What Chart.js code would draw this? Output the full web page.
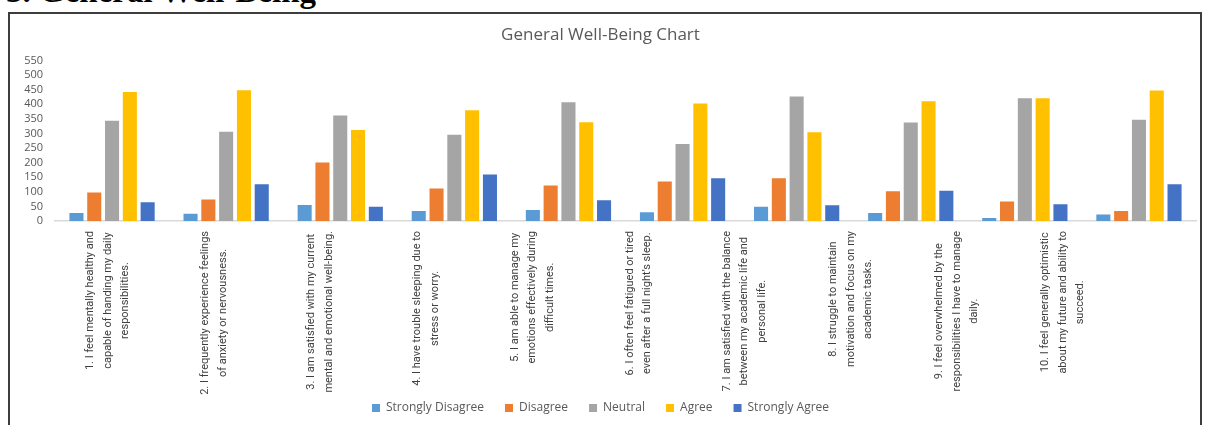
<!DOCTYPE html>
<html>
<head>
<meta charset="utf-8">
<title>General Well-Being Chart</title>
<script src="https://cdn.jsdelivr.net/npm/chart.js@4.4.0/dist/chart.umd.min.js"></script>
<style>
    body { margin: 0; background: #fff; width: 1205px; height: 425px; overflow: hidden; position: relative; }
    #heading { position: absolute; left: 6px; top: -27px; font: bold 33px 'Liberation Serif', serif; color: #000; white-space: nowrap; }
    #frame { position: absolute; left: 8px; top: 12px; width: 1190px; height: 430px; border: 2px solid #3d3d3d; }
    #wrap { position: absolute; left: 0; top: 0; width: 1205px; height: 425px; }
</style>
</head>
<body>
<div id="heading">3. General Well-Being</div>
<div id="frame"></div>
<div id="wrap"><canvas id="wellbeingChart"></canvas></div>
<script>
// Survey statements (one array per label, split into its lines)
const categories = [
    ['1. I feel mentally healthy and', 'capable of handing my daily', 'responsibilities.'],
    ['2. I frequently experience feelings', 'of anxiety or nervousness.'],
    ['3. I am satisfied with my current', 'mental and emotional well-being.'],
    ['4. I have trouble sleeping due to', 'stress or worry.'],
    ['5. I am able to manage my', 'emotions effectively during', 'difficult times.'],
    ['6. I often feel fatigued or tired', 'even after a full night\u2019s sleep.'],
    ['7. I am satisfied with the balance', 'between my academic life and', 'personal life.'],
    ['8. I struggle to maintain', 'motivation and focus on my', 'academic tasks.'],
    ['9. I feel overwhelmed by the', 'responsibilities I have to manage', 'daily.'],
    ['10. I feel generally optimistic', 'about my future and ability to', 'succeed.'],
];

const stronglyDisagree = [27, 25, 55, 34, 38, 30, 49, 27, 10, 22];
const disagree = [98, 74, 200, 111, 122, 135, 146, 102, 67, 34];
const neutral = [343, 306, 361, 295, 407, 264, 426, 337, 420, 347];
const agree = [442, 448, 312, 379, 338, 402, 304, 410, 420, 447];
const stronglyAgree = [64, 126, 49, 159, 71, 146, 54, 104, 57, 126];

const yMin = 0;
const yMax = 550;
const yStep = 50;

// Excel-style rotated labels with centred lines
const centredLabels = {
    id: 'centredLabels',
    afterDraw(chart) {
        const ctx = chart.ctx;
        const xScale = chart.scales.x;
        const left = chart.chartArea.left;
        ctx.save();
        ctx.font = "11px 'Liberation Sans Narrow', 'Roboto', sans-serif";
        ctx.fillStyle = '#404040';
        ctx.textAlign = 'center';
        ctx.textBaseline = 'middle';
        categories.forEach((lines, i) => {
            const x = left + (xScale.getPixelForValue(i) - left) * 0.93;
            const widest = Math.max(...lines.map(l => ctx.measureText(l).width));
            const y = chart.chartArea.bottom + 10 + widest / 2;
            lines.forEach((line, j) => {
                ctx.save();
                ctx.translate(x + (j - (lines.length - 1) / 2) * 17.5, y);
                ctx.rotate(-Math.PI / 2);
                ctx.fillText(line, 0, 0);
                ctx.restore();
            });
        });
        ctx.restore();
    }
};

const ctx = document.getElementById('wellbeingChart').getContext('2d');
const wellbeingChart = new Chart(ctx, {
    type: 'bar',
    data: {
        labels: categories,
        datasets: [
            { label: 'Strongly Disagree', data: stronglyDisagree, backgroundColor: '#5B9BD5' },
            { label: 'Disagree', data: disagree, backgroundColor: '#ED7D31' },
            { label: 'Neutral', data: neutral, backgroundColor: '#A5A5A5' },
            { label: 'Agree', data: agree, backgroundColor: '#FFC000' },
            { label: 'Strongly Agree', data: stronglyAgree, backgroundColor: '#4472C4' },
        ],
    },
    options: {
        responsive: true,
        maintainAspectRatio: false,
        animation: false,
        categoryPercentage: 0.78,
        barPercentage: 0.79,
        layout: { padding: { top: 15, left: 5, right: 9, bottom: 1 } },
        plugins: {
            title: {
                display: true,
                text: 'General Well-Being Chart',
                color: '#595959',
                font: { family: 'Open Sans', size: 17, weight: 'normal' },
                padding: { top: 10, bottom: 15 },
            },
            legend: {
                position: 'bottom',
                labels: {
                    boxWidth: 8,
                    boxHeight: 8,
                    padding: 21,
                    color: '#595959',
                    font: { family: 'Open Sans', size: 12 },
                },
            },
            tooltip: { enabled: false },
        },
        scales: {
            x: {
                grid: { display: false, drawTicks: false },
                border: { display: true, color: '#d9d9d9', width: 1.5 },
                ticks: { display: false },
                afterFit(scale) { scale.height = 160; },
            },
            y: {
                min: yMin,
                max: yMax,
                grid: { display: false, drawTicks: false },
                border: { display: false },
                ticks: {
                    stepSize: yStep,
                    autoSkip: false,
                    padding: 12,
                    color: '#595959',
                    font: { family: 'Open Sans', size: 11, lineHeight: 1 },
                },
                afterFit(scale) { scale.width = 50; },
            },
        },
    },
    plugins: [centredLabels],
});
</script>
</body>
</html>
